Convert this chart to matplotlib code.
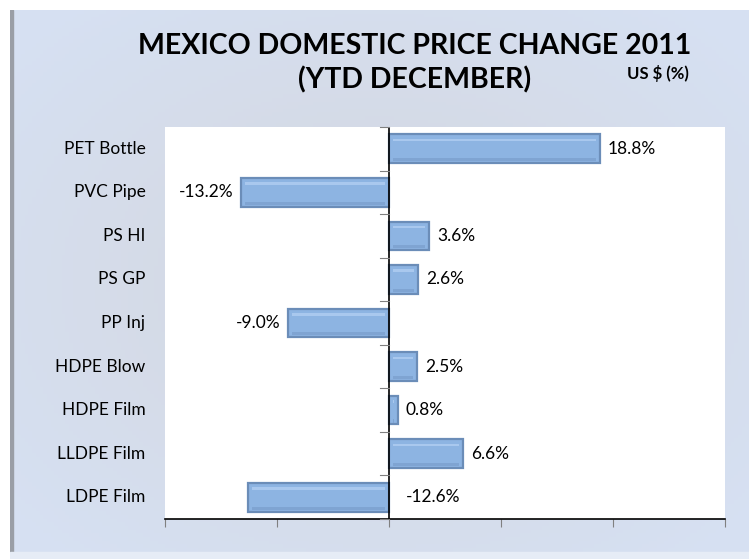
import matplotlib.pyplot as plt
import numpy as np
from matplotlib.patches import Rectangle

categories = ["PET Bottle", "PVC Pipe", "PS HI", "PS GP", "PP Inj",
              "HDPE Blow", "HDPE Film", "LLDPE Film", "LDPE Film"]
values = [18.8, -13.2, 3.6, 2.6, -9.0, 2.5, 0.8, 6.6, -12.6]
labels = ["18.8%", "-13.2%", "3.6%", "2.6%", "-9.0%", "2.5%", "0.8%", "6.6%", "-12.6%"]

plt.rcParams['font.family'] = ['Lato', 'DejaVu Sans']

W, H = 749, 559
fig = plt.figure(figsize=(W / 100, H / 100), dpi=100)
fig.patch.set_facecolor('white')

# background panel with soft gradient
bg = fig.add_axes([10 / W, 0.0 / H, (W - 10) / W, (H - 10) / H])
bg.set_axis_off()
gx = np.linspace(-1, 1, 200)
gy = np.linspace(-1, 1, 150)
X, Y = np.meshgrid(gx, gy)
r = np.clip(np.sqrt(X ** 2 + Y ** 2) / 1.3, 0, 1)
c_center = np.array([0.83, 0.84, 0.87])
c_edge = np.array([0.84, 0.88, 0.95])
img = c_center[None, None, :] * (1 - r[..., None]) + c_edge[None, None, :] * r[..., None]
bg.imshow(img, aspect='auto', extent=[0, 1, 0, 1], origin='lower')
bg.set_xlim(0, 1)
bg.set_ylim(0, 1)
bg.add_patch(Rectangle((0, 0.01), 0.004, 0.99, color='#9a9ea6', transform=bg.transAxes))
bg.add_patch(Rectangle((0, 0.0), 1, 0.012, color='#e6ecf6', transform=bg.transAxes))

# plot area
left, right, top, bottom = 165, 725, 127, 519
ax = fig.add_axes([left / W, 1 - bottom / H, (right - left) / W, (bottom - top) / H])
ax.set_facecolor('white')

n = len(categories)
ypos = np.arange(n)
bh = 0.66
ax.barh(ypos, values, height=bh, color='#8DB4E2', edgecolor='#6B8DB8',
        linewidth=1.6, zorder=2)
# bevel: light band at top, darker band at bottom
inset = [0.35 if v > 0 else -0.35 for v in values]
ax.barh(ypos - bh / 2 + 0.13, [v - 2 * d for v, d in zip(values, inset)], height=0.06,
        left=inset, color='#A9C8EE', linewidth=0, zorder=3)
ax.barh(ypos + bh / 2 - 0.08, [v - 2 * d for v, d in zip(values, inset)], height=0.07,
        left=inset, color='#7FA4D2', linewidth=0, zorder=3)

ax.set_xlim(-20, 30)
ax.set_ylim(n - 0.5, -0.5)
ax.set_xticks(np.arange(-20, 31, 10))
ax.set_xticklabels([])
ax.tick_params(axis='x', length=6, width=0.8, color='#808080', direction='out')
ax.set_yticks([])

ax.axvline(0, color='black', lw=1.2, zorder=4)
for yb in np.arange(n + 1) - 0.5:
    ax.plot([-0.8, 0], [yb, yb], color='#808080', lw=0.8, zorder=4, clip_on=False)

for s in ['top', 'right', 'left']:
    ax.spines[s].set_visible(False)
ax.spines['bottom'].set_linewidth(1.2)

for i, (cat, v, lab) in enumerate(zip(categories, values, labels)):
    ax.text(-0.035, i, cat, transform=ax.get_yaxis_transform(), ha='right',
            va='center', fontsize=12.5)
    if cat == "LDPE Film":
        ax.text(1.5, i, lab, ha='left', va='center', fontsize=12.5)
    elif v >= 0:
        ax.text(v + 0.7, i, lab, ha='left', va='center', fontsize=12.5)
    else:
        ax.text(v - 0.7, i, lab, ha='right', va='center', fontsize=12.5)

fig.text(415 / W, 1 - 46 / H, "MEXICO DOMESTIC PRICE CHANGE 2011", ha='center',
         va='center', fontsize=20.5, fontweight='bold')
fig.text(415 / W, 1 - 80 / H, "(YTD DECEMBER)", ha='center', va='center',
         fontsize=20.5, fontweight='bold')
fig.text(658 / W, 1 - 73 / H, "US $ (%)", ha='center', va='center',
         fontsize=12, fontweight='bold')

fig.savefig("out.png", dpi=100)
